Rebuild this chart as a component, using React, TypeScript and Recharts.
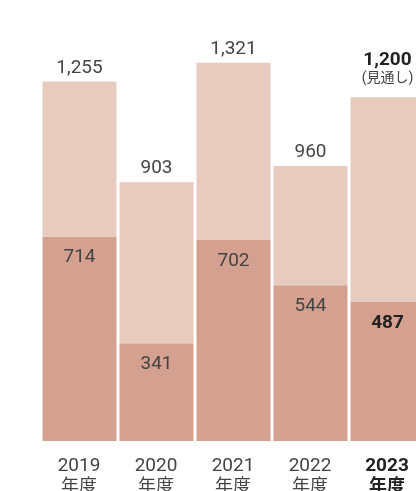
import React from 'react';
import { BarChart, Bar, XAxis, YAxis, LabelList } from 'recharts';

const years = ['2019', '2020', '2021', '2022', '2023'];
const totals = [1255, 903, 1321, 960, 1200];
const lowerValues = [714, 341, 702, 544, 487];
const unitLabel = '年度';
const forecastNote = '(見通し)';
const forecastIndex = 4;

const data = years.map((y, i) => ({
  year: y,
  lower: lowerValues[i],
  upper: totals[i] - lowerValues[i],
  total: totals[i],
}));

if (typeof document !== 'undefined') {
  document.documentElement.style.overflow = 'hidden';
  document.body.style.overflow = 'hidden';
}

const FONT = 'Roboto, "Noto Sans CJK JP", sans-serif';
const LIGHT = '#e7cbbf';
const DARK = '#d4a08f';
const TEXT = '#444444';
const TEXT_BOLD = '#222222';
const FS = 19;

const fmt = (v: number) => Number(v).toLocaleString('en-US');

const TopLabel = (props: any) => {
  const { x, y, width, value, index } = props;
  const cx = Number(x) + Number(width) / 2;
  if (index === forecastIndex) {
    return (
      <g>
        <text x={cx} y={Number(y) - 32} textAnchor="middle" fontFamily={FONT} fontSize={FS} fontWeight={700} fill={TEXT_BOLD}>
          {fmt(value)}
        </text>
        <text x={cx} y={Number(y) - 15} textAnchor="middle" fontFamily={FONT} fontSize={14} fontWeight={400} fill={TEXT}>
          {forecastNote}
        </text>
      </g>
    );
  }
  return (
    <text x={cx} y={Number(y) - 9} textAnchor="middle" fontFamily={FONT} fontSize={FS} fill={TEXT}>
      {fmt(value)}
    </text>
  );
};

const InnerLabel = (props: any) => {
  const { x, y, width, value, index } = props;
  const cx = Number(x) + Number(width) / 2;
  const bold = index === forecastIndex;
  return (
    <text x={cx} y={Number(y) + 26} textAnchor="middle" fontFamily={FONT} fontSize={FS} fontWeight={bold ? 700 : 400} fill={bold ? TEXT_BOLD : TEXT}>
      {fmt(value)}
    </text>
  );
};

const XTick = (props: any) => {
  const { x, y, payload } = props;
  const bold = years.indexOf(payload.value) === forecastIndex;
  return (
    <g>
      <text x={x} y={Number(y) + 30} textAnchor="middle" fontFamily={FONT} fontSize={FS} fontWeight={bold ? 700 : 400} fill={bold ? TEXT_BOLD : TEXT}>
        {payload.value}
      </text>
      <text x={x} y={Number(y) + 51} textAnchor="middle" fontFamily={FONT} fontSize={18} fontWeight={bold ? 700 : 400} fill={bold ? TEXT_BOLD : TEXT}>
        {unitLabel}
      </text>
    </g>
  );
};

export default function App() {
  return (
    <div style={{ position: 'fixed', left: 8, top: 8, width: 430, height: 483, overflow: 'hidden' }}>
      <BarChart
        width={430}
        height={495}
        data={data}
        margin={{ top: 32, right: 12.5, bottom: 0, left: 32.5 }}
      >
        <XAxis
          dataKey="year"
          axisLine={false}
          tickLine={false}
          tickSize={0}
          tickMargin={0}
          height={62}
          interval={0}
          tick={<XTick />}
        />
        <YAxis hide domain={[0, 1400]} />
        <Bar dataKey="lower" stackId="a" fill={DARK} barSize={74} isAnimationActive={false}>
          <LabelList dataKey="lower" content={<InnerLabel />} />
        </Bar>
        <Bar dataKey="upper" stackId="a" fill={LIGHT} barSize={74} isAnimationActive={false}>
          <LabelList dataKey="total" content={<TopLabel />} />
        </Bar>
      </BarChart>
    </div>
  );
}
